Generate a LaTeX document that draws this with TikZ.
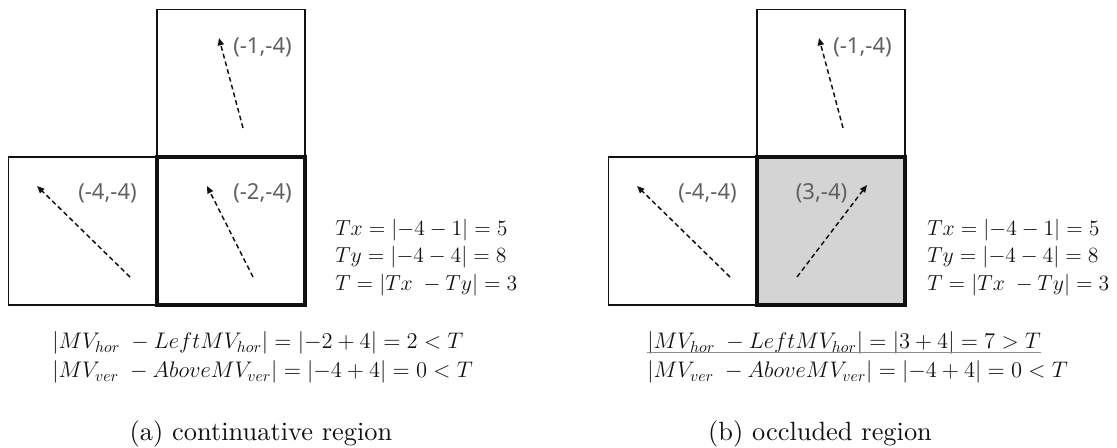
\RequirePackage{fix-cm}
\documentclass[tikz,border=0pt]{standalone}
\usepackage{amsmath,amssymb}
\usepackage[no-math]{fontspec}
\newfontfamily\lblfont{Noto Sans}
\newfontfamily\capfont{lmroman10-regular.otf}
\usetikzlibrary{arrows.meta}
\definecolor{ink}{HTML}{111111}
\definecolor{muted}{HTML}{606060}
\definecolor{occfill}{HTML}{D4D4D4}
\definecolor{uline}{HTML}{8C8C8C}
\newcommand{\eqsize}{\fontsize{16.9}{21.8}\selectfont}
\newcommand{\thrsize}{\fontsize{16.3}{20.6}\selectfont}
\tikzset{
 every node/.append style={inner sep=0pt,text=ink},
 blk/.style={draw=ink,line width=.9pt,minimum width=111pt,minimum height=111pt},
 cur/.style={blk,line width=2.6pt},
 occ/.style={cur,fill=occfill},
 mvlabel/.style={font=\lblfont\fontsize{16.5}{18}\selectfont,text=muted},
 mv/.style={-{Triangle[length=5.5pt,width=4.6pt]},draw=ink,line width=1.1pt,dash pattern=on 3.6pt off 2.4pt},
 eq/.style={font=\thrsize,align=left,anchor=west},
 eqline/.style={font=\eqsize,anchor=west},
 underline/.style={draw=uline,line width=.8pt},
 subcap/.style={font=\capfont\fontsize{19.8}{24}\selectfont},
}
\begin{document}
\begin{tikzpicture}[x=.75pt,y=-.75pt]

\useasboundingbox (0,0) rectangle (1117,448);
% (a) continuative region
\node[blk] (a-above) at (231,83.5) {};
\node[blk] (a-left) at (82.5,231) {};
\node[cur] (a-cur) at (231,231) {};
\node[mvlabel] (a-above-mv) at (262.5,47) {(-1,-4)};
\node[mvlabel] (a-left-mv) at (107.5,193) {(-4,-4)};
\node[mvlabel] (a-cur-mv) at (262.5,193) {(-2,-4)};
\coordinate (a-above-s) at (243,128);
\coordinate (a-above-e) at (219,38);
\coordinate (a-left-s) at (130,277);
\coordinate (a-left-e) at (37,186);
\coordinate (a-cur-s) at (253,277);
\coordinate (a-cur-e) at (207,186);
\draw[mv] (a-above-s) -- (a-above-e);
\draw[mv] (a-left-s) -- (a-left-e);
\draw[mv] (a-cur-s) -- (a-cur-e);
\node[eq] (a-thr) at (335,257.5) {$Tx=\lvert -4-1\rvert=5$\\$Ty=\lvert -4-4\rvert=8$\\$T=\lvert Tx\;-Ty\rvert=3$};
\node[eqline] (a-hor) at (52,343) {$\lvert MV_{hor}\;-LeftMV_{hor}\rvert=\lvert -2+4\rvert=2<T$};
\node[eqline] (a-ver) at (52,372) {$\lvert MV_{ver}\;-AboveMV_{ver}\rvert=\lvert -4+4\rvert=0<T$};
\node[subcap] (a-cap) at (261,434) {(a) continuative region};

% (b) occluded region
\node[blk] (b-above) at (831,83.5) {};
\node[blk] (b-left) at (682.5,231) {};
\node[occ] (b-cur) at (831,231) {};
\node[mvlabel] (b-above-mv) at (862.5,47) {(-1,-4)};
\node[mvlabel] (b-left-mv) at (707.5,193) {(-4,-4)};
\node[mvlabel] (b-cur-mv) at (821.5,193) {(3,-4)};
\coordinate (b-above-s) at (843,128);
\coordinate (b-above-e) at (819,38);
\coordinate (b-left-s) at (730,277);
\coordinate (b-left-e) at (637,186);
\coordinate (b-cur-s) at (797,277);
\coordinate (b-cur-e) at (867,185);
\draw[mv] (b-above-s) -- (b-above-e);
\draw[mv] (b-left-s) -- (b-left-e);
\draw[mv] (b-cur-s) -- (b-cur-e);
\node[eq] (b-thr) at (927,257.5) {$Tx=\lvert -4-1\rvert=5$\\$Ty=\lvert -4-4\rvert=8$\\$T=\lvert Tx\;-Ty\rvert=3$};
\node[eqline] (b-hor) at (647,343) {$\lvert MV_{hor}\;-LeftMV_{hor}\rvert=\lvert 3+4\rvert=7>T$};
\node[eqline] (b-ver) at (647,372) {$\lvert MV_{ver}\;-AboveMV_{ver}\rvert=\lvert -4+4\rvert=0<T$};
\draw[underline] ([yshift=-3pt]b-hor.base west) -- ([yshift=-3pt]b-hor.base east);
\node[subcap] (b-cap) at (820,434) {(b) occluded region};

\end{tikzpicture}
\end{document}
